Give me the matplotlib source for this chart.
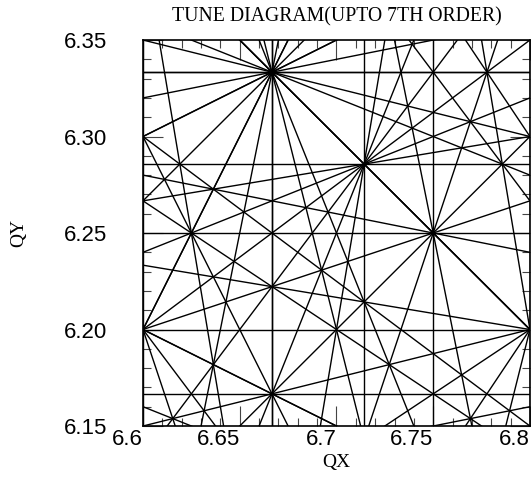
import matplotlib
matplotlib.use('Agg')
import matplotlib.pyplot as plt
from matplotlib.ticker import MultipleLocator, FixedLocator, FixedFormatter
import numpy as np

# tune window and resonance order
qx_range = [6.6, 6.8]
qy_range = [6.15, 6.35]
max_order = 7

x_ticks = [6.6, 6.65, 6.7, 6.75, 6.8]
x_labels = ['6.6', '6.65', '6.7', '6.75', '6.8']
y_ticks = [6.15, 6.20, 6.25, 6.30, 6.35]
y_labels = ['6.15', '6.20', '6.25', '6.30', '6.35']

title = 'TUNE DIAGRAM(UPTO 7TH ORDER)'


def resonance_lines(order):
    # all lines m*Qx + n*Qy = p with |m|+|n| <= order crossing the window
    lines = []
    x0, x1 = qx_range
    y0, y1 = qy_range
    for m in range(-order, order + 1):
        for n in range(0, order + 1):
            if abs(m) + abs(n) == 0 or abs(m) + abs(n) > order:
                continue
            if n == 0 and m <= 0:
                continue
            corners = [m * x + n * y for x in (x0, x1) for y in (y0, y1)]
            pmin, pmax = int(np.floor(min(corners))), int(np.ceil(max(corners)))
            for p in range(pmin, pmax + 1):
                lines.append((m, n, p))
    return lines


fig = plt.figure(figsize=(5.31, 4.84), dpi=100)
ax = fig.add_axes([0.2693, 0.1198, 0.7287, 0.7975])

xs = np.array(qx_range)
for m, n, p in resonance_lines(max_order):
    if n == 0:
        ax.plot([p / m, p / m], qy_range, color='black', lw=1.0)
    else:
        ax.plot(xs, (p - m * xs) / n, color='black', lw=1.0)

ax.set_xlim(qx_range)
ax.set_ylim(qy_range)

ax.xaxis.set_major_locator(FixedLocator(x_ticks))
ax.xaxis.set_major_formatter(FixedFormatter(x_labels))
ax.yaxis.set_major_locator(FixedLocator(y_ticks))
ax.yaxis.set_major_formatter(FixedFormatter(y_labels))
ax.xaxis.set_minor_locator(MultipleLocator(0.01))
ax.yaxis.set_minor_locator(MultipleLocator(0.01))
ax.tick_params(which='both', direction='in', top=True, right=True, width=0.8, color='#444444')
ax.tick_params(which='major', length=14.5)
ax.tick_params(which='minor', length=5.8)
ax.tick_params(axis='x', which='major', pad=2, labelsize=16)
ax.tick_params(axis='y', which='major', pad=26, labelsize=16)
for lab in ax.get_xticklabels() + ax.get_yticklabels():
    lab.set_family('Liberation Sans')
for lab in ax.get_xticklabels():
    lab.set_horizontalalignment('right')
for sp in ax.spines.values():
    sp.set_linewidth(1.2)

ax.set_xlabel('QX', fontsize=14, family='Liberation Serif', labelpad=3)
ax.set_ylabel('QY', fontsize=14, family='Liberation Serif', labelpad=26)
ax.set_title(title, fontsize=14.2, family='Liberation Serif', pad=13)

fig.savefig('out.png', dpi=100)
